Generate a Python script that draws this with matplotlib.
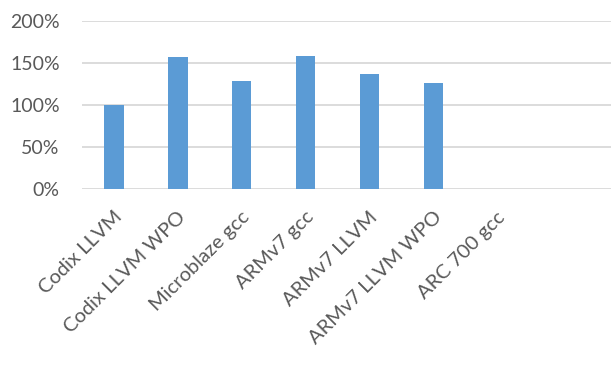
import matplotlib
matplotlib.use("Agg")
import matplotlib.pyplot as plt
import matplotlib.transforms as mtransforms
from matplotlib.ticker import FuncFormatter

categories = ["Codix LLVM", "Codix LLVM WPO", "Microblaze gcc", "ARMv7 gcc",
              "ARMv7 LLVM", "ARMv7 LLVM WPO", "ARC 700 gcc"]
values = [100, 157, 129, 159, 137, 127, 0]
yticks = [0, 50, 100, 150, 200]

plt.rcParams['font.family'] = ['Lato', 'DejaVu Sans']
fig = plt.figure(figsize=(6.11, 3.67), dpi=100)
ax = fig.add_axes([82/611, 1-189.3/367, 1-82/611, (189.3-21.3)/367])

x = list(range(len(categories)))
ax.bar(x, values, width=0.3, color="#5B9BD5", zorder=3)
ax.set_ylim(0, 200)
ax.set_xlim(-0.5, (611-81.5)/64 - 0.5)
ax.set_yticks(yticks)
ax.yaxis.set_major_formatter(FuncFormatter(lambda v, p: f"{int(v)}%"))
ax.grid(axis='y', color="#D9D9D9", linewidth=1.3, zorder=0)
for s in ax.spines.values():
    s.set_visible(False)
ax.tick_params(axis='both', length=0, labelcolor="#595959")
ax.tick_params(axis='y', pad=16, labelsize=14)
ax.set_xticks(x)
ax.set_xticklabels(categories, rotation=45, ha='right', va='center',
                   rotation_mode='anchor', fontsize=14.5)
ax.tick_params(axis='x', pad=18)
offset = mtransforms.ScaledTranslation(5/100, 0, fig.dpi_scale_trans)
for lbl in ax.get_xticklabels():
    lbl.set_transform(lbl.get_transform() + offset)
fig.savefig("out.png", dpi=100)
